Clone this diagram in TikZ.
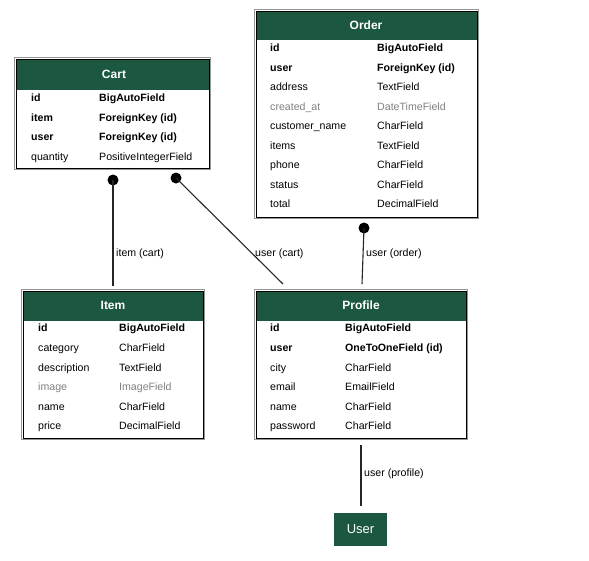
\documentclass[tikz,border=0pt]{standalone}
\usepackage{fontspec}
\setmainfont{Liberation Sans}
\definecolor{hdrgreen}{RGB}{28,88,64}
\definecolor{softgray}{RGB}{128,128,128}
\definecolor{rimgray}{RGB}{150,150,150}
\tikzset{
  fn/.style={anchor=base west, inner sep=0pt, font=\fontsize{10.6}{12}\selectfont},
  fb/.style={fn, font=\fontsize{10.6}{12}\selectfont\bfseries},
  fg/.style={fn, text=softgray},
  hdr/.style={fill=hdrgreen, draw=none},
  title/.style={text=white, inner sep=0pt, anchor=base, font=\fontsize{12}{14}\selectfont\bfseries},
  frame/.style={draw=black, line width=1pt},
  rim/.style={draw=rimgray, line width=0.8pt},
  rel/.style={draw=black!85, line width=1.1pt},
  dot/.style={circle, fill=black, inner sep=0pt, minimum size=11pt},
  lbl/.style={anchor=base west, inner sep=0pt, font=\fontsize{10.6}{12}\selectfont}
}
\begin{document}
\begin{tikzpicture}[x=1pt,y=-1pt]
\useasboundingbox[fill=white] (0,0) rectangle (589,560);

% ---- Cart ----
\draw[rim] (14.5,57.5) rectangle (210.5,169.5);
\fill[hdr] (17,60) rectangle (209,90);
\draw[frame] (16,59) rectangle (209,168);
\node[title] (cart) at (114,78.5) {Cart};
\foreach \n/\t/\s [count=\i from 0] in {id/BigAutoField/fb, item/ForeignKey (id)/fb, user/ForeignKey (id)/fb, quantity/PositiveIntegerField/fn}{
  \node[\s] (cart-n\i) at (31,101.8+19.4*\i) {\n};
  \node[\s] (cart-t\i) at (99,101.8+19.4*\i) {\t};
}

% ---- Order ----
\draw[rim] (254.5,9.5) rectangle (478.5,218.5);
\fill[hdr] (257,12) rectangle (477,40);
\draw[frame] (256,11) rectangle (477,217);
\node[title] (order) at (366,29.5) {Order};
\foreach \n/\t/\s [count=\i from 0] in {id/BigAutoField/fb, user/ForeignKey (id)/fb, address/TextField/fn, created\_at/DateTimeField/fg, customer\_name/CharField/fn, items/TextField/fn, phone/CharField/fn, status/CharField/fn, total/DecimalField/fn}{
  \node[\s] (order-n\i) at (270,51.8+19.5*\i) {\n};
  \node[\s] (order-t\i) at (377,51.8+19.5*\i) {\t};
}

% ---- Item ----
\draw[rim] (21.5,289.5) rectangle (204.5,439.5);
\fill[hdr] (24,292) rectangle (203,321);
\draw[frame] (23,291) rectangle (203,438);
\node[title] (item) at (113,309.5) {Item};
\foreach \n/\t/\s [count=\i from 0] in {id/BigAutoField/fb, category/CharField/fn, description/TextField/fn, image/ImageField/fg, name/CharField/fn, price/DecimalField/fn}{
  \node[\s] (item-n\i) at (38,331.8+19.6*\i) {\n};
  \node[\s] (item-t\i) at (119,331.8+19.6*\i) {\t};
}

% ---- Profile ----
\draw[rim] (254.5,289.5) rectangle (467.5,439.5);
\fill[hdr] (257,292) rectangle (466,321);
\draw[frame] (256,291) rectangle (466,438);
\node[title] (profile) at (361,309.5) {Profile};
\foreach \n/\t/\s [count=\i from 0] in {id/BigAutoField/fb, user/OneToOneField (id)/fb, city/CharField/fn, email/EmailField/fn, name/CharField/fn, password/CharField/fn}{
  \node[\s] (profile-n\i) at (270,331.8+19.6*\i) {\n};
  \node[\s] (profile-t\i) at (345,331.8+19.6*\i) {\t};
}

% ---- User ----
\node[fill=hdrgreen, minimum width=53pt, minimum height=33pt, inner sep=0pt,
      text=white, font=\fontsize{13}{15}\selectfont] (user) at (360.5,529.5) {User};

% ---- relations ----
\node[dot] (d-cart-item) at (113,180) {};
\node[dot] (d-cart-user) at (176,178) {};
\node[dot] (d-order-user) at (364,228) {};
\coordinate (e-item) at (113,286);
\coordinate (e-profile-cart) at (283,284);
\coordinate (e-profile-order) at (362,284);
\coordinate (s-profile-user) at (361,445);
\coordinate (e-user) at (361,506);

\draw[rel] (d-cart-item.center) -- (e-item);
\draw[rel] (d-cart-user.center) -- (e-profile-cart);
\draw[rel] (d-order-user.center) -- (e-profile-order);
\draw[rel] (s-profile-user) -- (e-user);

\node[lbl] (l-item-cart) at (116,256.8) {item (cart)};
\node[lbl] (l-user-cart) at (255,256.8) {user (cart)};
\node[lbl] (l-user-order) at (366,256.8) {user (order)};
\node[lbl] (l-user-profile) at (364,476.8) {user (profile)};
\end{tikzpicture}
\end{document}
